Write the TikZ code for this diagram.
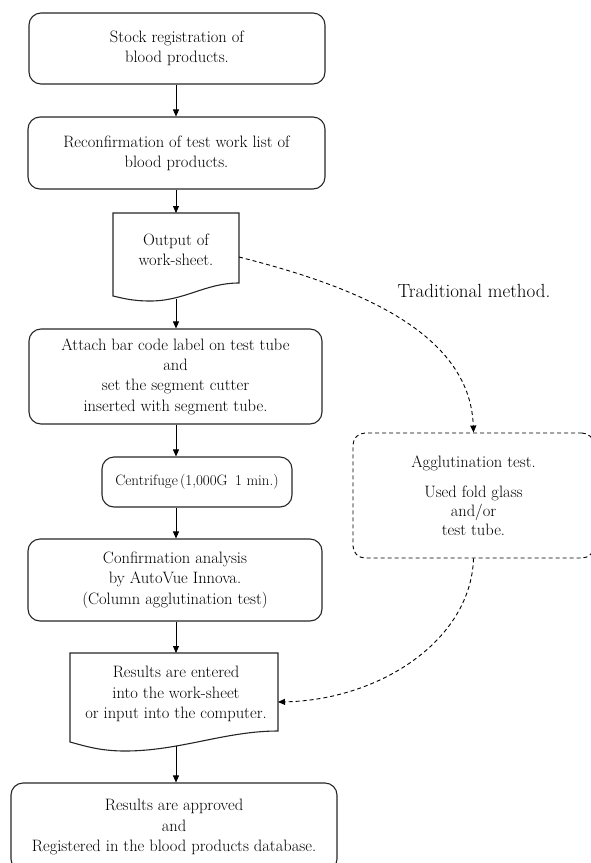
\documentclass[tikz,border=0pt]{standalone}
\usetikzlibrary{arrows.meta}
\begin{document}
\begin{tikzpicture}[x=1pt,y=-1pt,
  font=\fontsize{16.5}{20.3}\selectfont,
  box/.style={draw=black!85,line width=1.1pt,rounded corners=12pt,align=center,inner sep=0pt},
  docline/.style={draw=black!85,line width=1.1pt},
  txt/.style={align=center,inner sep=0pt},
  conn/.style={line width=0.9pt,-{Triangle[length=7pt,width=6pt]}},
  dsh/.style={line width=0.9pt,dash pattern=on 4pt off 3pt}]
\clip (0,0) rectangle (591,863);
% main column
\node[box,minimum width=296pt,minimum height=71pt] (b1) at (177,48.5) {Stock registration of\\blood products.};
\node[box,minimum width=297pt,minimum height=72pt] (b2) at (176.5,153) {Reconfirmation of test work list of\\blood products.};
% document 1
\draw[docline] (113,213) -- (239,213) -- (239,283) .. controls (205,283) and (185,301) .. (150,301) .. controls (132,301) and (122,298) .. (113,296) -- cycle;
\node[txt] (d1) at (176,250) {Output of\\work-sheet.};
\coordinate (d1t) at (176,213);
\coordinate (d1b) at (176,299);
\coordinate (d1r) at (239,257);
\node[box,minimum width=293pt,minimum height=95pt] (b3) at (175.5,376.5) {Attach bar code label on test tube\\and\\set the segment cutter\\inserted with segment tube.};
\node[box,minimum width=190pt,minimum height=50pt,font=\fontsize{15}{18}\selectfont] (b4) at (197,482) {Centrifuge\hspace{0.15em}(1,000G\hspace{0.5em}1 min.)};
\node[box,minimum width=294pt,minimum height=82pt] (b5) at (175,580) {Confirmation analysis\\by AutoVue Innova.\\(Column agglutination test)};
% document 2
\draw[docline] (70,653) -- (278,653) -- (278,731) .. controls (225,731) and (180,751) .. (125,751) .. controls (100,751) and (85,746) .. (70,742) -- cycle;
\node[txt] (d2) at (176,694) {Results are entered\\into the work-sheet\\or input into the computer.};
\coordinate (d2t) at (176,653);
\coordinate (d2b) at (176,746);
\coordinate (d2r) at (278,702);
\node[box,minimum width=326pt,minimum height=88pt] (b6) at (174,827) {Results are approved\\and\\Registered in the blood products database.};
% traditional branch
\node[box,dsh,draw=black,minimum width=241pt,minimum height=125pt,font=\fontsize{16.5}{18.8}\selectfont] (agg) at (473.5,495.5) {Agglutination test.\\[12pt]Used fold glass\\and/or\\test tube.};
\node[txt,font=\fontsize{19}{22}\selectfont] (trad) at (474,291) {Traditional method.};
% connectors
\draw[conn] (b1.south -| 176,0) -- (b2.north -| 176,0);
\draw[conn] (b2.south -| 176,0) -- (d1t);
\draw[conn] (d1b) -- (b3.north -| 176,0);
\draw[conn] (b3.south -| 176,0) -- (b4.north -| 176,0);
\draw[conn] (b4.south -| 176,0) -- (b5.north -| 176,0);
\draw[conn] (b5.south -| 176,0) -- (d2t);
\draw[conn] (d2b) -- (b6.north -| 176,0);
\draw[dsh,-{Triangle[length=7pt,width=6pt]}] (d1r) .. controls (350,285) and (470,330) .. (agg.north);
\draw[dsh,-{Triangle[length=7pt,width=6pt]}] (agg.south) .. controls (471,640) and (380,700) .. (d2r);
\end{tikzpicture}
\end{document}
